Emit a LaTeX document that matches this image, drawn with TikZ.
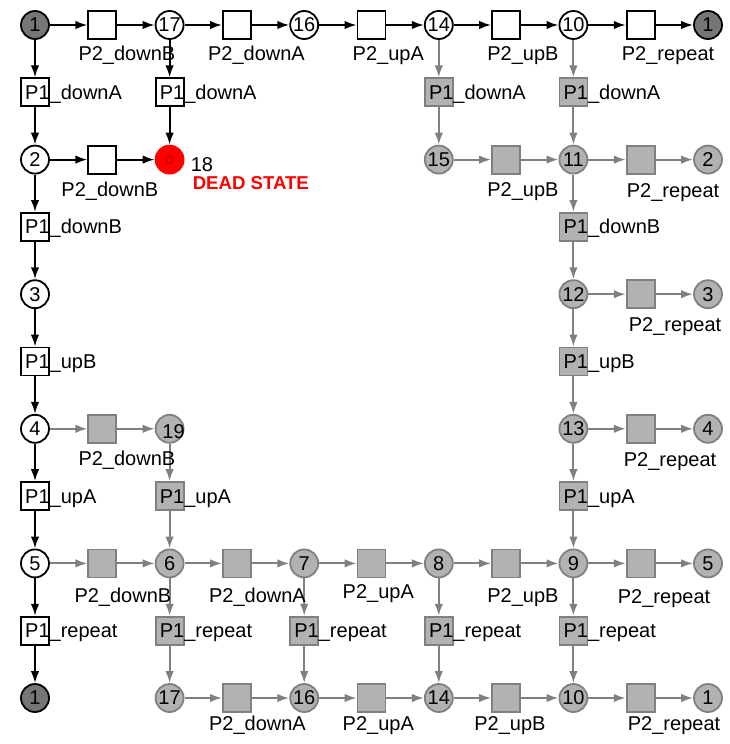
\documentclass[tikz,border=0pt]{standalone}
\usepackage{fontspec}
\setmainfont{Liberation Sans}
\usetikzlibrary{arrows.meta}
\definecolor{gfill}{RGB}{178,178,178}
\definecolor{gline}{RGB}{128,128,128}
\definecolor{dfill}{RGB}{118,118,118}
\definecolor{redfill}{RGB}{255,0,0}
\definecolor{redring}{RGB}{195,0,0}
\tikzset{
  txt/.style={font=\fontsize{20}{24}\selectfont},
  wplace/.style={circle, draw=black, line width=1.8pt, fill=white, minimum size=28pt, inner sep=0pt, txt},
  gplace/.style={circle, draw=gline, line width=1.8pt, fill=gfill, minimum size=28pt, inner sep=0pt, txt},
  dplace/.style={circle, draw=black, line width=1.8pt, fill=dfill, minimum size=28pt, inner sep=0pt, txt},
  rplace/.style={circle, draw=redfill, line width=1.8pt, fill=redfill, minimum size=28pt, inner sep=0pt},
  wtrans/.style={rectangle, draw=black, line width=1.8pt, fill=white, minimum size=28pt, inner sep=0pt},
  gtrans/.style={rectangle, draw=gline, line width=1.8pt, fill=gfill, minimum size=28pt, inner sep=0pt},
  lbl/.style={txt, inner sep=0pt, anchor=base west},
  bedge/.style={draw=black, line width=2pt, -{Latex[length=12pt,width=8.5pt]}},
  gedge/.style={draw=gline, line width=2pt, -{Latex[length=12pt,width=8.5pt]}},
}
\newcommand{\ptwo}[4][37]{\node[lbl] (l#2) at ([xshift=#3pt,yshift=-#1pt]#2.center) {#4};}
\newcommand{\pone}[2]{\node[lbl] (l#1) at ([xshift=-10pt,yshift=-7pt]#1.center) {#2};}
\begin{document}
\begin{tikzpicture}[x=67.3pt,y=-67.3pt]
\useasboundingbox[fill=white] (-35pt,25pt) rectangle (694pt,-719pt);
% row 0
\node[dplace] (c0r0) at (0,0) {1};
\node[wtrans] (c1r0) at (1,0) {};
\node[wplace] (c2r0) at (2,0) {17};
\node[wtrans] (c3r0) at (3,0) {};
\node[wplace] (c4r0) at (4,0) {16};
\node[wtrans] (c5r0) at (5,0) {};
\node[wplace] (c6r0) at (6,0) {14};
\node[wtrans] (c7r0) at (7,0) {};
\node[wplace] (c8r0) at (8,0) {10};
\node[wtrans] (c9r0) at (9,0) {};
\node[dplace] (c10r0) at (10,0) {1};
% row 1
\node[wtrans] (c0r1) at (0,1) {};
\node[wtrans] (c2r1) at (2,1) {};
\node[gtrans] (c6r1) at (6,1) {};
\node[gtrans] (c8r1) at (8,1) {};
% row 2
\node[wplace] (c0r2) at (0,2) {2};
\node[wtrans] (c1r2) at (1,2) {};
\node[rplace] (c2r2) at (2,2) {};
\node[gplace] (c6r2) at (6,2) {15};
\node[gtrans] (c7r2) at (7,2) {};
\node[gplace] (c8r2) at (8,2) {11};
\node[gtrans] (c9r2) at (9,2) {};
\node[gplace] (c10r2) at (10,2) {2};
% row 3
\node[wtrans] (c0r3) at (0,3) {};
\node[gtrans] (c8r3) at (8,3) {};
% row 4
\node[wplace] (c0r4) at (0,4) {3};
\node[gplace] (c8r4) at (8,4) {12};
\node[gtrans] (c9r4) at (9,4) {};
\node[gplace] (c10r4) at (10,4) {3};
% row 5
\node[wtrans] (c0r5) at (0,5) {};
\node[gtrans] (c8r5) at (8,5) {};
% row 6
\node[wplace] (c0r6) at (0,6) {4};
\node[gtrans] (c1r6) at (1,6) {};
\node[gplace] (c2r6) at (2,6) {};
\node[gplace] (c8r6) at (8,6) {13};
\node[gtrans] (c9r6) at (9,6) {};
\node[gplace] (c10r6) at (10,6) {4};
% row 7
\node[wtrans] (c0r7) at (0,7) {};
\node[gtrans] (c2r7) at (2,7) {};
\node[gtrans] (c8r7) at (8,7) {};
% row 8
\node[wplace] (c0r8) at (0,8) {5};
\node[gtrans] (c1r8) at (1,8) {};
\node[gplace] (c2r8) at (2,8) {6};
\node[gtrans] (c3r8) at (3,8) {};
\node[gplace] (c4r8) at (4,8) {7};
\node[gtrans] (c5r8) at (5,8) {};
\node[gplace] (c6r8) at (6,8) {8};
\node[gtrans] (c7r8) at (7,8) {};
\node[gplace] (c8r8) at (8,8) {9};
\node[gtrans] (c9r8) at (9,8) {};
\node[gplace] (c10r8) at (10,8) {5};
% row 9
\node[wtrans] (c0r9) at (0,9) {};
\node[gtrans] (c2r9) at (2,9) {};
\node[gtrans] (c4r9) at (4,9) {};
\node[gtrans] (c6r9) at (6,9) {};
\node[gtrans] (c8r9) at (8,9) {};
% row 10
\node[dplace] (c0r10) at (0,10) {1};
\node[gplace] (c2r10) at (2,10) {17};
\node[gtrans] (c3r10) at (3,10) {};
\node[gplace] (c4r10) at (4,10) {16};
\node[gtrans] (c5r10) at (5,10) {};
\node[gplace] (c6r10) at (6,10) {14};
\node[gtrans] (c7r10) at (7,10) {};
\node[gplace] (c8r10) at (8,10) {10};
\node[gtrans] (c9r10) at (9,10) {};
\node[gplace] (c10r10) at (10,10) {1};
% dead state decoration
\node[circle, draw=redring, line width=1.4pt, minimum size=7pt, inner sep=0pt] (ring18) at (c2r2.center) {};
\node[lbl] (n18) at ([xshift=21pt,yshift=-12pt]c2r2.center) {18};
\node[lbl, text=redfill, font=\fontsize{18.6}{22}\selectfont\bfseries] (dead) at ([xshift=23pt,yshift=-30pt]c2r2.center) {DEAD STATE};
\node[txt, inner sep=0pt] (n19) at ([xshift=4pt,yshift=-3pt]c2r6.center) {19};
% black edges
\foreach \a/\b in {c0r0/c1r0,c1r0/c2r0,c2r0/c3r0,c3r0/c4r0,c4r0/c5r0,c5r0/c6r0,c6r0/c7r0,c7r0/c8r0,c8r0/c9r0,c9r0/c10r0,
  c0r0/c0r1,c0r1/c0r2,c0r2/c0r3,c0r3/c0r4,c0r4/c0r5,c0r5/c0r6,c0r6/c0r7,c0r7/c0r8,c0r8/c0r9,c0r9/c0r10,
  c2r0/c2r1,c2r1/c2r2,c0r2/c1r2,c1r2/c2r2}
  \draw[bedge] (\a) -- (\b);
% grey edges
\foreach \a/\b in {c6r0/c6r1,c6r1/c6r2,c6r2/c7r2,c7r2/c8r2,
  c8r0/c8r1,c8r1/c8r2,c8r2/c9r2,c9r2/c10r2,
  c8r2/c8r3,c8r3/c8r4,c8r4/c9r4,c9r4/c10r4,
  c8r4/c8r5,c8r5/c8r6,c8r6/c9r6,c9r6/c10r6,
  c8r6/c8r7,c8r7/c8r8,
  c0r6/c1r6,c1r6/c2r6,c2r6/c2r7,c2r7/c2r8,
  c0r8/c1r8,c1r8/c2r8,c2r8/c3r8,c3r8/c4r8,c4r8/c5r8,c5r8/c6r8,c6r8/c7r8,c7r8/c8r8,c8r8/c9r8,c9r8/c10r8,
  c2r8/c2r9,c2r9/c2r10,c4r8/c4r9,c4r9/c4r10,c6r8/c6r9,c6r9/c6r10,c8r8/c8r9,c8r9/c8r10,
  c2r10/c3r10,c3r10/c4r10,c4r10/c5r10,c5r10/c6r10,c6r10/c7r10,c7r10/c8r10,c8r10/c9r10,c9r10/c10r10}
  \draw[gedge] (\a) -- (\b);
% P2 labels
\ptwo[35]{c1r0}{-24}{P2\_downB}
\ptwo[35]{c3r0}{-29}{P2\_downA}
\ptwo[35]{c5r0}{-19}{P2\_upA}
\ptwo[35]{c7r0}{-19}{P2\_upB}
\ptwo[35]{c9r0}{-19}{P2\_repeat}
\ptwo{c1r2}{-41}{P2\_downB}
\ptwo{c7r2}{-19}{P2\_upB}
\ptwo[38]{c9r2}{-14}{P2\_repeat}
\ptwo{c9r4}{-12}{P2\_repeat}
\ptwo{c1r6}{-24}{P2\_downB}
\ptwo[38]{c9r6}{-17}{P2\_repeat}
\ptwo[39]{c1r8}{-28}{P2\_downB}
\ptwo[39]{c3r8}{-28}{P2\_downA}
\ptwo[35]{c5r8}{-29}{P2\_upA}
\ptwo[39]{c7r8}{-19}{P2\_upB}
\ptwo[40]{c9r8}{-23}{P2\_repeat}
\ptwo[32]{c3r10}{-28}{P2\_downA}
\ptwo[32]{c5r10}{-29}{P2\_upA}
\ptwo[32]{c7r10}{-32}{P2\_upB}
\ptwo[32]{c9r10}{-13}{P2\_repeat}
% P1 labels
\pone{c0r1}{P1\_downA}
\pone{c2r1}{P1\_downA}
\pone{c6r1}{P1\_downA}
\pone{c8r1}{P1\_downA}
\pone{c0r3}{P1\_downB}
\pone{c8r3}{P1\_downB}
\pone{c0r5}{P1\_upB}
\pone{c8r5}{P1\_upB}
\pone{c0r7}{P1\_upA}
\pone{c2r7}{P1\_upA}
\pone{c8r7}{P1\_upA}
\pone{c0r9}{P1\_repeat}
\pone{c2r9}{P1\_repeat}
\pone{c4r9}{P1\_repeat}
\pone{c6r9}{P1\_repeat}
\pone{c8r9}{P1\_repeat}
\end{tikzpicture}
\end{document}
